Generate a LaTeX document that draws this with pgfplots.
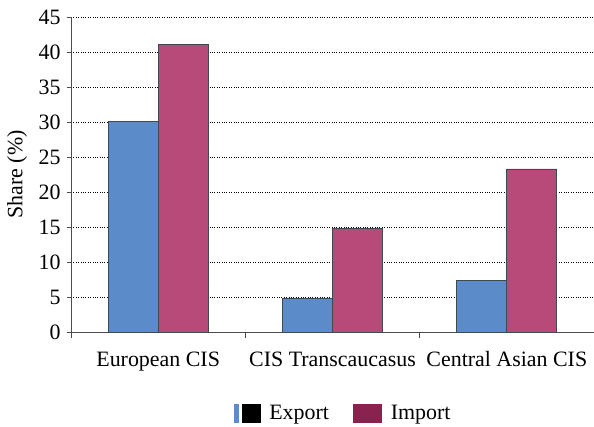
\documentclass[border=0pt]{standalone}
\usepackage{fontspec}
\setmainfont{Liberation Serif}
\usepackage{pgfplots}
\pgfplotsset{compat=1.18}
\definecolor{expblue}{HTML}{5B8BC8}
\definecolor{impred}{HTML}{B84A7A}
\definecolor{impleg}{HTML}{8A2250}
\definecolor{edge}{HTML}{404850}
\begin{document}
\begin{tikzpicture}[font=\fontsize{22}{24}\selectfont]
\useasboundingbox (-71bp,-95bp) rectangle (523bp,332bp);
\begin{axis}[
  at={(0,0)}, anchor=south west,
  scale only axis, width=523bp, height=315bp,
  ybar=0pt, bar width=0.287,
  xmin=-0.5, xmax=2.5, ymin=0, ymax=45,
  ytick={0,5,...,45},
  xtick={0,1,2},
  xticklabels={European CIS, CIS Transcaucasus, Central Asian CIS},
  minor xtick={-0.5,0.5,1.5},
  major x tick style={draw=none},
  minor tick length=6bp,
  major tick length=4bp,
  tick align=outside,
  xtick pos=bottom, ytick pos=left,
  axis x line*=bottom, axis y line*=left,
  axis line style={draw=black!70, line width=1pt},
  every tick/.style={black!70, line width=0.8pt},
  ymajorgrids,
  major grid style={black, dotted, line width=0.8pt},
  xticklabel style={font=\fontsize{22}{24}\selectfont, yshift=-12bp},
  yticklabel style={font=\fontsize{22}{24}\selectfont},
  yticklabel shift=3bp,
  /pgf/number format/assume math mode=true,
  ylabel={Share (\%)},
  ylabel style={font=\fontsize{22}{24}\selectfont},
  every axis y label/.style={at={(axis description cs:-0.103,0.5)}, rotate=90, anchor=center},
  legend style={at={(0.52,-0.257)}, anchor=center, draw=none, fill=none,
    legend columns=2, font=\fontsize{22}{24}\selectfont,
    /tikz/every even column/.append style={column sep=22bp},
    inner sep=0pt},
  legend cell align=left,
]
\addplot[fill=expblue, draw=edge, line width=0.8pt,
  legend image code/.code={
    \fill[expblue] (0bp,-9bp) rectangle (4bp,9bp);
    \fill[black] (8bp,-9bp) rectangle (26bp,9bp);
  }] coordinates {(0,30.1) (1,4.8) (2,7.4)};
\addlegendentry{\hspace{7bp}Export}
\addplot[fill=impred, draw=edge, line width=0.8pt,
  legend image code/.code={
    \fill[impleg] (0bp,-9bp) rectangle (28bp,9bp);
  }] coordinates {(0,41.1) (1,14.8) (2,23.3)};
\addlegendentry{\hspace{7bp}Import}
\end{axis}
\end{tikzpicture}
\end{document}
